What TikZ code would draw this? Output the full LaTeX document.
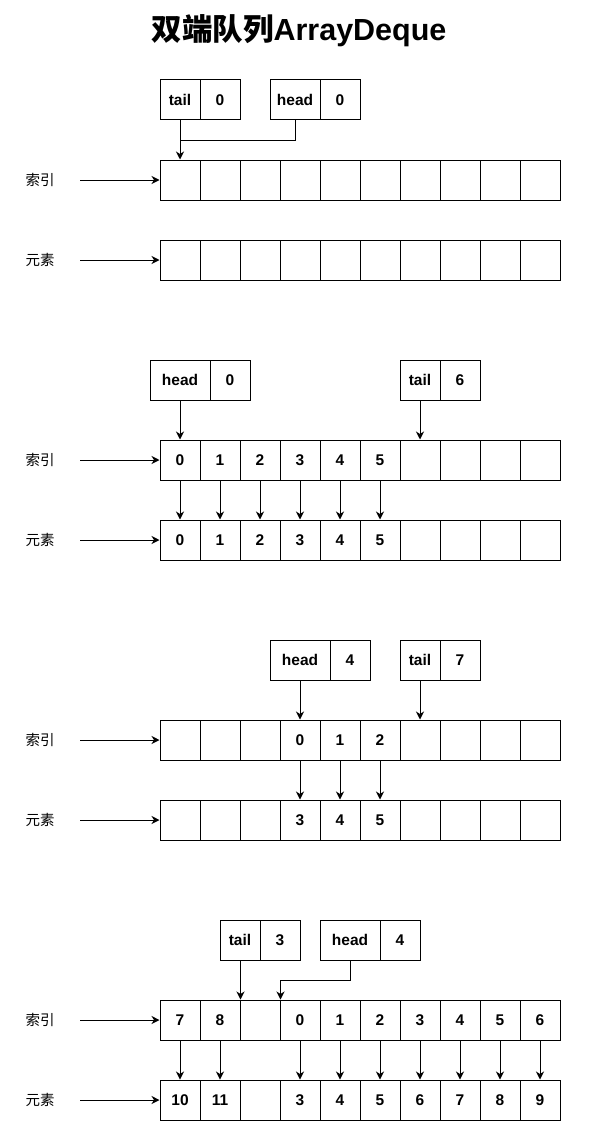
\documentclass[tikz,border=0pt]{standalone}
\usepackage{fontspec}
\setmainfont{Liberation Sans}
\newfontfamily\cjk{Noto Sans CJK SC}
\usetikzlibrary{arrows.meta}
\begin{document}
\begin{tikzpicture}[x=1pt,y=-1pt,
  cell/.style={draw, line width=1pt, minimum width=40pt, minimum height=40pt, inner sep=0pt, font=\bfseries\fontsize{15.5}{16}\selectfont},
  lbl/.style={font=\cjk\fontsize{14.5}{15}\selectfont, inner sep=0pt},
  arr/.style={line width=1pt, -{Stealth[length=8pt,width=8pt,inset=2.5pt]}},
  ln/.style={line width=1pt}]
\useasboundingbox (0,0) rectangle (601,1121);
\node[inner sep=0pt] (title) at (299,31) {{\cjk\bfseries\fontsize{30.5}{32}\selectfont 双端队列}{\bfseries\fontsize{30.5}{32}\selectfont ArrayDeque}};

% ---------- section 1
\foreach \k in {0,...,9} {
  \node[cell] (i1-\k) at (180+40*\k,180) {};
  \node[cell] (e1-\k) at (180+40*\k,260) {};
}
\node[cell] (t1n) at (180,100) {tail};
\node[cell] (t1v) at (220,100) {0};
\node[cell, minimum width=50pt] (h1n) at (295,100) {head};
\node[cell] (h1v) at (340,100) {0};
\draw[arr] (t1n.south) -- (i1-0.north);
\draw[ln] (h1n.south) -- ++(0,20) -| (t1n.south |- 0,140);

% ---------- section 2
\foreach \t [count=\j from 0] in {0,1,2,3,4,5,{},{},{},{}} {
  \node[cell] (i2-\j) at (180+40*\j,460) {\t};
  \node[cell] (e2-\j) at (180+40*\j,540) {\t};
}
\foreach \j in {0,...,5} { \draw[arr] (i2-\j.south) -- (e2-\j.north); }
\node[cell, minimum width=60pt] (h2n) at (180,380) {head};
\node[cell] (h2v) at (230,380) {0};
\node[cell] (t2n) at (420,380) {tail};
\node[cell] (t2v) at (460,380) {6};
\draw[arr] (h2n.south) -- (i2-0.north);
\draw[arr] (t2n.south) -- (i2-6.north);

% ---------- section 3
\foreach \t [count=\j from 0] in {{},{},{},0,1,2,{},{},{},{}} {
  \node[cell] (i3-\j) at (180+40*\j,740) {\t};
}
\foreach \t [count=\j from 0] in {{},{},{},3,4,5,{},{},{},{}} {
  \node[cell] (e3-\j) at (180+40*\j,820) {\t};
}
\foreach \j in {3,4,5} { \draw[arr] (i3-\j.south) -- (e3-\j.north); }
\node[cell, minimum width=60pt] (h3n) at (300,660) {head};
\node[cell] (h3v) at (350,660) {4};
\node[cell] (t3n) at (420,660) {tail};
\node[cell] (t3v) at (460,660) {7};
\draw[arr] (h3n.south) -- (i3-3.north);
\draw[arr] (t3n.south) -- (i3-6.north);

% ---------- section 4
\foreach \t [count=\j from 0] in {7,8,{},0,1,2,3,4,5,6} {
  \node[cell] (i4-\j) at (180+40*\j,1020) {\t};
}
\foreach \t [count=\j from 0] in {10,11,{},3,4,5,6,7,8,9} {
  \node[cell] (e4-\j) at (180+40*\j,1100) {\t};
}
\foreach \j in {0,1,3,4,5,6,7,8,9} { \draw[arr] (i4-\j.south) -- (e4-\j.north); }
\node[cell] (t4n) at (240,940) {tail};
\node[cell] (t4v) at (280,940) {3};
\node[cell, minimum width=60pt] (h4n) at (350,940) {head};
\node[cell] (h4v) at (400,940) {4};
\draw[arr] (t4n.south) -- ++(0,20) -| (i4-1.north east);
\draw[arr] (h4n.south) -- ++(0,20) -| (i4-2.north east);

% ---------- row labels
\foreach \s/\yi/\ye in {1/180/260, 2/460/540, 3/740/820, 4/1020/1100} {
  \node[lbl] (li\s) at (40,\yi) {索引};
  \node[lbl] (le\s) at (40,\ye) {元素};
  \coordinate (si\s) at (80,\yi);
  \coordinate (se\s) at (80,\ye);
  \draw[arr] (si\s) -- (i\s-0.west);
  \draw[arr] (se\s) -- (e\s-0.west);
}
\end{tikzpicture}
\end{document}
